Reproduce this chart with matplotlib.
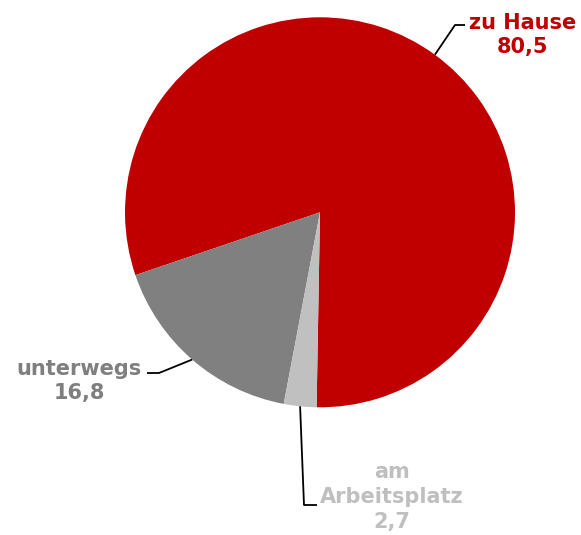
import numpy as np
import matplotlib.pyplot as plt

# Anteile nach Ort (Prozent)
orte = ['zu Hause', 'unterwegs', 'am\nArbeitsplatz']
anteile = [80.5, 16.8, 2.7]
farben = ['#C00000', '#808080', '#C0C0C0']
textfarben = ['#C00000', '#7F7F7F', '#BFBFBF']

fig = plt.figure(figsize=(5.81, 5.35), dpi=100)
W, H = 581, 535
cx, cy, r = 320, 212.3, 195
ax = fig.add_axes([(cx - r) / W, (H - cy - r) / H, 2 * r / W, 2 * r / H])

wedges, _ = ax.pie(anteile, colors=farben, startangle=-91, counterclock=True,
                   radius=1, wedgeprops=dict(linewidth=0))
ax.set_xlim(-1, 1)
ax.set_ylim(-1, 1)
ax.axis('off')


def px(x, y):
    # Pixelposition -> Datenkoordinaten
    return (x - cx) / r, (cy - y) / r


# Knickpunkt, Linienende und Textmitte je Beschriftung
knick = [px(455, 25), px(159, 373), px(304, 505)]
ende = [px(465, 25), px(147, 373), px(317, 505)]
textpos = [px(523, 35), px(79, 381), px(392, 497)]

for w, ort, wert, tf, k, e, t in zip(wedges, orte, anteile, textfarben,
                                      knick, ende, textpos):
    mitte = np.deg2rad((w.theta1 + w.theta2) / 2)
    x0, y0 = np.cos(mitte), np.sin(mitte)
    ax.plot([x0, k[0], e[0]], [y0, k[1], e[1]], color='black', lw=1.3,
            clip_on=False, solid_capstyle='butt')
    ax.text(t[0], t[1], f"{ort}\n{wert:.1f}".replace('.', ','),
            ha='center', va='center', color=tf, fontsize=15,
            fontweight='bold', family='DejaVu Sans', linespacing=1.3)

fig.savefig('out.png', dpi=100)
